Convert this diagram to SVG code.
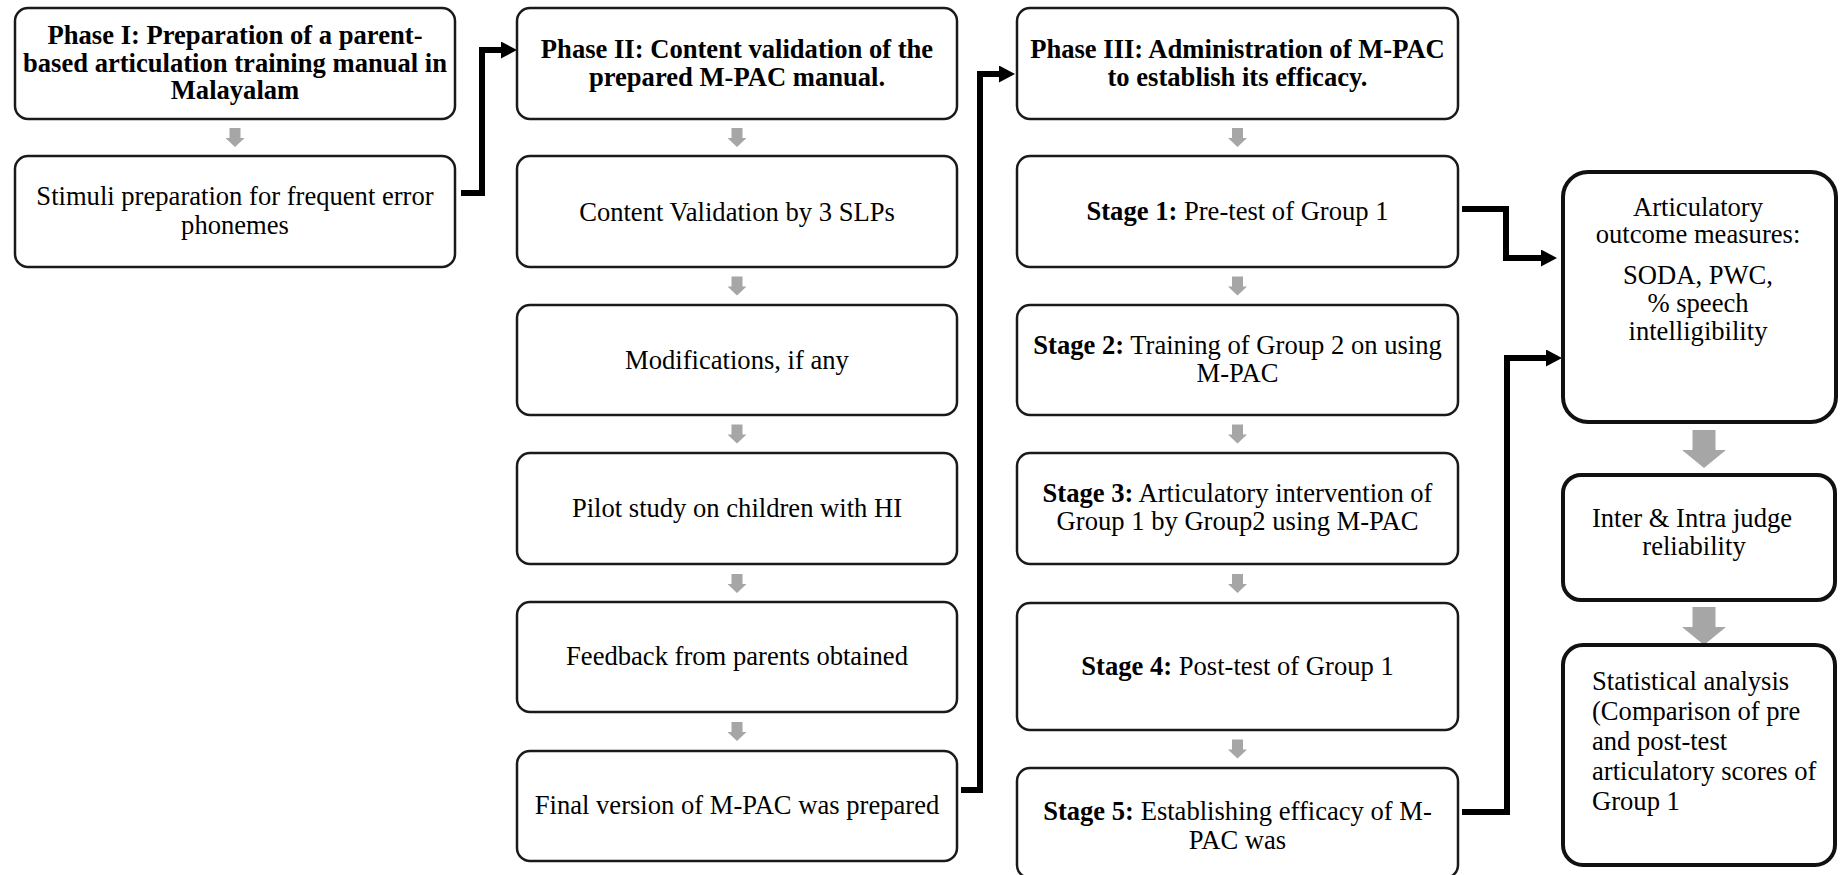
<svg xmlns="http://www.w3.org/2000/svg" xmlns:xlink="http://www.w3.org/1999/xlink" width="1842" height="875" viewBox="0 0 1842 875">
<style>
  .box { fill: #ffffff; stroke: #1a1a1a; stroke-width: 2.5; }
  .box2 { fill: #ffffff; stroke: #111111; stroke-width: 4; }
  text { font-family: "Liberation Serif", "Times New Roman", serif; font-size: 26.6px; fill: #000000; }
  .c { text-anchor: middle; }
  .b { font-weight: bold; }
  .conn { fill: none; stroke: #000000; stroke-width: 6; stroke-linejoin: miter; }
  .garrow { fill: #a6a6a6; }
</style>
<defs>
  <marker id="ah" markerUnits="userSpaceOnUse" markerWidth="18" markerHeight="18" refX="6" refY="8.5" orient="auto">
    <path d="M0,0 L16,8.5 L0,17 Z" fill="#000000"/>
  </marker>
  <path id="sarrow" class="garrow" d="M-5.5,0 H5.5 V10 H9.5 L0,19 L-9.5,10 H-5.5 Z"/>
  <path id="barrow" class="garrow" d="M-11.5,0 H11.5 V20 H22 L0,38 L-22,20 H-11.5 Z"/>
</defs>
<rect width="1842" height="875" fill="#ffffff"/>

<g id="connectors">
  <path class="conn" marker-end="url(#ah)" d="M461,193 H482 V50 H507"/>
  <path class="conn" marker-end="url(#ah)" d="M961,790 H980 V74 H1005"/>
  <path class="conn" marker-end="url(#ah)" d="M1462,209 H1506 V258 H1547"/>
  <path class="conn" marker-end="url(#ah)" d="M1462,812 H1507 V358 H1552"/>
  <use xlink:href="#sarrow" x="235" y="128"/>
  <use xlink:href="#sarrow" x="737" y="128"/>
  <use xlink:href="#sarrow" x="737" y="276.5"/>
  <use xlink:href="#sarrow" x="737" y="424.5"/>
  <use xlink:href="#sarrow" x="737" y="574"/>
  <use xlink:href="#sarrow" x="737" y="722"/>
  <use xlink:href="#sarrow" x="1237.5" y="128"/>
  <use xlink:href="#sarrow" x="1237.5" y="276.5"/>
  <use xlink:href="#sarrow" x="1237.5" y="424.5"/>
  <use xlink:href="#sarrow" x="1237.5" y="574"/>
  <use xlink:href="#sarrow" x="1237.5" y="739.5"/>
  <use xlink:href="#barrow" x="1704" y="430"/>
  <use xlink:href="#barrow" x="1704" y="607"/>
</g>

<g id="phase1">
  <rect class="box" x="15" y="8" width="440" height="111" rx="13"/>
  <text class="c b" x="235" y="44">Phase I: Preparation of a parent-</text>
  <text class="c b" x="235" y="71.5">based articulation training manual in</text>
  <text class="c b" x="235" y="99">Malayalam</text>
</g>
<g id="stimuli">
  <rect class="box" x="15" y="156" width="440" height="111" rx="13"/>
  <text class="c" x="235" y="205">Stimuli preparation for frequent error</text>
  <text class="c" x="235" y="234">phonemes</text>
</g>

<g id="phase2">
  <rect class="box" x="517" y="8" width="440" height="111" rx="13"/>
  <text class="c b" x="737" y="58">Phase II: Content validation of the</text>
  <text class="c b" x="737" y="86">prepared M-PAC manual.</text>
</g>
<g id="content-validation">
  <rect class="box" x="517" y="156" width="440" height="111" rx="13"/>
  <text class="c" x="737" y="220.5">Content Validation by 3 SLPs</text>
</g>
<g id="modifications">
  <rect class="box" x="517" y="305" width="440" height="110" rx="13"/>
  <text class="c" x="737" y="369">Modifications, if any</text>
</g>
<g id="pilot">
  <rect class="box" x="517" y="453" width="440" height="111" rx="13"/>
  <text class="c" x="737" y="517">Pilot study on children with HI</text>
</g>
<g id="feedback">
  <rect class="box" x="517" y="602" width="440" height="110" rx="13"/>
  <text class="c" x="737" y="665">Feedback from parents obtained</text>
</g>
<g id="final">
  <rect class="box" x="517" y="751" width="440" height="110" rx="13"/>
  <text class="c" x="737" y="814">Final version of M-PAC was prepared</text>
</g>

<g id="phase3">
  <rect class="box" x="1017" y="8" width="441" height="111" rx="13"/>
  <text class="c b" x="1237.5" y="58">Phase III: Administration of M-PAC</text>
  <text class="c b" x="1237.5" y="86">to establish its efficacy.</text>
</g>
<g id="stage1">
  <rect class="box" x="1017" y="156" width="441" height="111" rx="13"/>
  <text class="c" x="1237.5" y="219.5"><tspan class="b">Stage 1:</tspan> Pre-test of Group 1</text>
</g>
<g id="stage2">
  <rect class="box" x="1017" y="305" width="441" height="110" rx="13"/>
  <text class="c" x="1237.5" y="354"><tspan class="b">Stage 2:</tspan> Training of Group 2 on using</text>
  <text class="c" x="1237.5" y="382">M-PAC</text>
</g>
<g id="stage3">
  <rect class="box" x="1017" y="453" width="441" height="111" rx="13"/>
  <text class="c" x="1237.5" y="502"><tspan class="b">Stage 3:</tspan> Articulatory intervention of</text>
  <text class="c" x="1237.5" y="530">Group 1 by Group2 using M-PAC</text>
</g>
<g id="stage4">
  <rect class="box" x="1017" y="603" width="441" height="127" rx="13"/>
  <text class="c" x="1237.5" y="675"><tspan class="b">Stage 4:</tspan> Post-test of Group 1</text>
</g>
<g id="stage5">
  <rect class="box" x="1017" y="768" width="441" height="110" rx="13"/>
  <text class="c" x="1237.5" y="820"><tspan class="b">Stage 5:</tspan> Establishing efficacy of M-</text>
  <text class="c" x="1237.5" y="849">PAC was</text>
</g>

<g id="outcome">
  <rect class="box2" x="1563" y="172" width="273" height="250" rx="25"/>
  <text class="c" x="1698" y="216">Articulatory</text>
  <text class="c" x="1698" y="243">outcome measures:</text>
  <text class="c" x="1698" y="284">SODA, PWC,</text>
  <text class="c" x="1698" y="312">% speech</text>
  <text class="c" x="1698" y="340">intelligibility</text>
</g>
<g id="reliability">
  <rect class="box2" x="1563" y="475" width="272" height="125" rx="18"/>
  <text class="c" x="1692" y="527">Inter &amp; Intra judge</text>
  <text class="c" x="1694" y="555">reliability</text>
</g>
<g id="statistics">
  <rect class="box2" x="1563" y="645" width="272" height="220" rx="20"/>
  <text x="1592" y="690">Statistical analysis</text>
  <text x="1592" y="720">(Comparison of pre</text>
  <text x="1592" y="750">and post-test</text>
  <text x="1592" y="780">articulatory scores of</text>
  <text x="1592" y="810">Group 1</text>
</g>
</svg>
